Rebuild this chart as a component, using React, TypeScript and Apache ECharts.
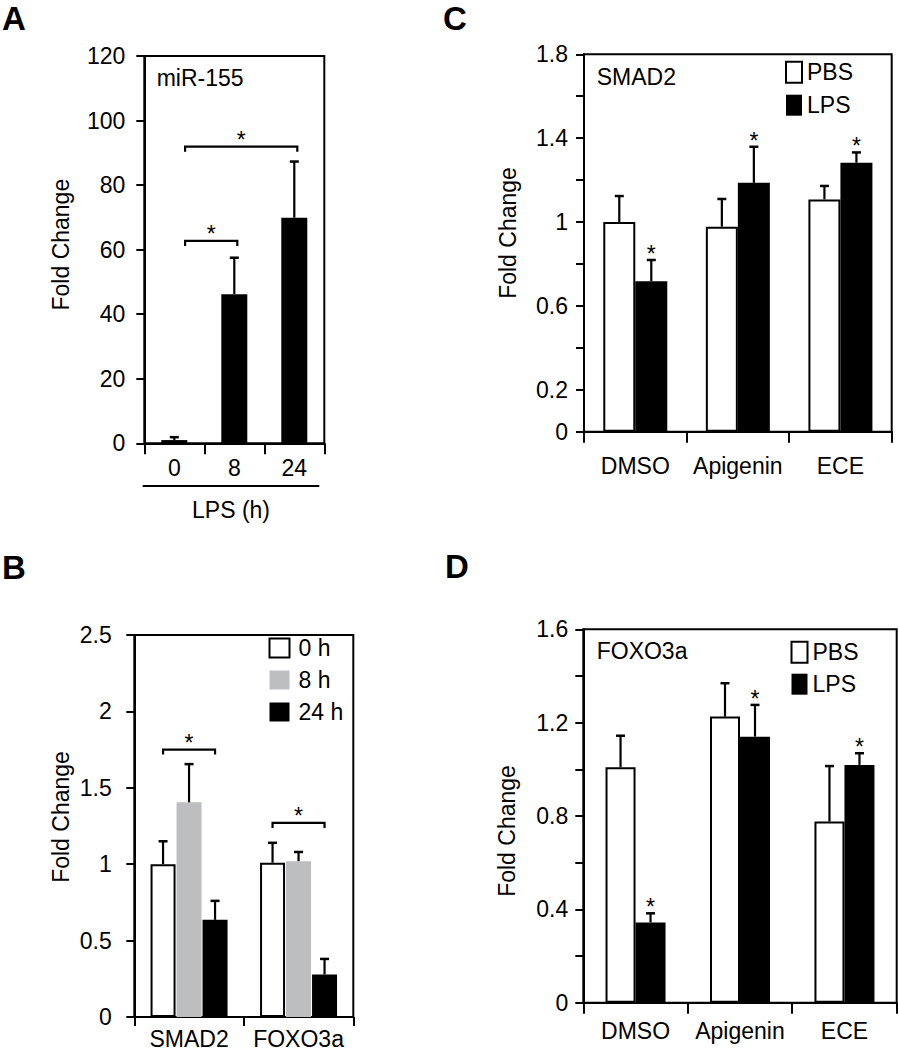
import React, { useEffect, useRef } from "react";
import * as echarts from "echarts";

const FONT = '"Liberation Sans", Arial, Helvetica, sans-serif';
const BLACK = "#000000";
const GRAY = "#bcbec0";

// Panel A: miR-155 vs LPS time
const catsA = ["0", "8", "24"];
const valsA = [1.0, 46.2, 69.9];
const errA = [1.9, 57.5, 87.3];
const bracketsA: [number, number, number][] = [
  [0, 1, 62.7],
  [0, 2, 91.9],
];

// Panel B: SMAD2 / FOXO3a over time
const catsB = ["SMAD2", "FOXO3a"];
const namesB = ["0 h", "8 h", "24 h"];
const b0h = [1.0, 1.01];
const b0hErr = [1.15, 1.14];
const b8h = [1.405, 1.02];
const b8hErr = [1.655, 1.08];
const b24h = [0.636, 0.278];
const b24hErr = [0.76, 0.38];
const bracketsB: [number, number][] = [
  [0, 1.75],
  [1, 1.27],
];

// Panels C and D
const catsCD = ["DMSO", "Apigenin", "ECE"];
const namesCD = ["PBS", "LPS"];
const cPBS = [1.0, 0.978, 1.108];
const cPBSErr = [1.124, 1.11, 1.172];
const cLPS = [0.718, 1.187, 1.283];
const cLPSErr = [0.819, 1.359, 1.332];
const cLPSStar = [1, 1, 1];
const dPBS = [1.009, 1.226, 0.776];
const dPBSErr = [1.144, 1.369, 1.014];
const dLPS = [0.344, 1.14, 1.019];
const dLPSErr = [0.383, 1.276, 1.069];
const dLPSStar = [1, 1, 1];

const yLabelsC = [0, 2, 6, 10, 14, 18];
const yLabelsD = [0, 4, 8, 12, 16];

const line2 = { color: BLACK, width: 2 };
const STAR_FONT = `23px ${FONT}`;

function xAxis(gridIndex: number, data: string[], tickLen: number, margin: number) {
  return {
    type: "category",
    gridIndex,
    data,
    axisLine: { show: true, lineStyle: line2 },
    axisTick: { show: true, length: tickLen, lineStyle: line2 },
    axisLabel: { color: BLACK, fontSize: 23, fontFamily: FONT, margin, interval: 0 },
    splitLine: { show: false },
  };
}

function yAxis(
  gridIndex: number,
  max: number,
  interval: number,
  margin: number,
  nameGap: number,
  namePad: number[],
  formatter?: (v: number) => string
) {
  return {
    type: "value",
    gridIndex,
    min: 0,
    max,
    interval,
    name: "Fold Change",
    nameLocation: "middle",
    nameGap,
    nameMoveOverlap: false,
    nameTextStyle: { color: BLACK, fontSize: 23, fontFamily: FONT, padding: namePad },
    axisLine: { show: true, lineStyle: line2 },
    axisTick: { show: true, length: 8, lineStyle: line2 },
    axisLabel: { color: BLACK, fontSize: 23, fontFamily: FONT, margin, formatter },
    splitLine: { show: false },
  };
}

function starText(x: number, y: number) {
  return {
    type: "text",
    x,
    y,
    style: { text: "*", fill: BLACK, font: STAR_FONT, align: "center", verticalAlign: "middle" },
  };
}

function errSeries(axis: number, vals: number[], errs: number[], stars: number[] | null, offset: number) {
  return {
    type: "custom",
    xAxisIndex: axis,
    yAxisIndex: axis,
    silent: true,
    z: 5,
    data: vals.map((v, i) => [i, v, errs[i], stars ? stars[i] : 0]),
    renderItem: (_p: any, api: any) => {
      const i = api.value(0);
      const top = api.coord([i, api.value(1)]);
      const e = api.coord([i, api.value(2)]);
      const x = top[0] + offset;
      const children: any[] = [
        { type: "line", shape: { x1: x, y1: top[1], x2: x, y2: e[1] }, style: { stroke: BLACK, lineWidth: 2.2 } },
        { type: "line", shape: { x1: x - 4.5, y1: e[1], x2: x + 4.5, y2: e[1] }, style: { stroke: BLACK, lineWidth: 2.5 } },
      ];
      if (api.value(3)) children.push(starText(x, e[1] - 6));
      return { type: "group", children };
    },
  };
}

function bracketPath(xL: number, xR: number, y: number) {
  return [
    { type: "polyline", shape: { points: [[xL, y + 5], [xL, y], [xR, y], [xR, y + 5]] }, style: { stroke: BLACK, lineWidth: 2.2, fill: "none" } },
    starText((xL + xR) / 2, y - 7),
  ];
}

const whiteBar = { color: "#ffffff", borderColor: BLACK, borderWidth: 2 };
const blackBar = { color: BLACK };
const grayBar = { color: GRAY };

export default function App() {
  const ref = useRef<HTMLDivElement>(null);
  useEffect(() => {
    if (!ref.current) return;
    const chart = echarts.init(ref.current, undefined, { renderer: "svg" });

    const wB = 25;
    const gB = 1;
    const wC = 32;
    const wD = 30;

    const option: any = {
      animation: false,
      backgroundColor: "#ffffff",
      textStyle: { fontFamily: FONT },
      grid: [
        { left: 144.3, top: 56, width: 180, height: 387.3 },
        { left: 134.3, top: 635, width: 219, height: 384.3 },
        { left: 584, top: 54.3, width: 307.7, height: 377.4 },
        { left: 583.3, top: 629.3, width: 313.4, height: 373.4 },
      ].map((g) => ({ ...g, show: true, borderColor: BLACK, borderWidth: 2, backgroundColor: "transparent", containLabel: false })),
      xAxis: [
        xAxis(0, catsA, 11, 13.5),
        xAxis(1, catsB, 9, 10),
        xAxis(2, catsCD, 11, 22.5),
        xAxis(3, catsCD, 11, 16.5),
      ],
      yAxis: [
        yAxis(0, 120, 20, 19, 72, [0, 0, 0, 10]),
        yAxis(1, 2.5, 0.5, 22.5, 62, [0, 0, 0, 18]),
        yAxis(2, 1.8, 0.2, 16, 65, [0, 0, 0, 20], (v: number) =>
          yLabelsC.includes(Math.round(v * 10)) ? String(Math.round(v * 10) / 10) : ""
        ),
        yAxis(3, 1.6, 0.2, 15, 65, [0, 30, 0, 0], (v: number) =>
          yLabelsD.includes(Math.round(v * 10)) ? String(Math.round(v * 10) / 10) : ""
        ),
      ],
      legend: [
        {
          data: [
            { name: namesB[0], itemStyle: whiteBar },
            { name: namesB[1], itemStyle: grayBar },
            { name: namesB[2], itemStyle: blackBar },
          ],
          orient: "vertical",
          left: 268.5,
          top: 636.5,
          itemWidth: 20,
          itemHeight: 19,
          itemGap: 9,
          padding: 0,
          icon: "rect",
          selectedMode: false,
          textStyle: { color: BLACK, fontSize: 23, fontFamily: FONT, padding: [0, 0, 0, 4] },
        },
        {
          data: [
            { name: namesCD[0], itemStyle: whiteBar },
            { name: namesCD[1], itemStyle: blackBar },
          ],
          orient: "vertical",
          left: 785,
          top: 60.7,
          itemWidth: 16,
          itemHeight: 21,
          itemGap: 10,
          padding: 0,
          icon: "rect",
          selectedMode: false,
          textStyle: { color: BLACK, fontSize: 23, fontFamily: FONT },
        },
        {
          data: [
            { name: namesCD[0], itemStyle: whiteBar },
            { name: namesCD[1], itemStyle: blackBar },
          ],
          orient: "vertical",
          left: 790.5,
          top: 640.7,
          itemWidth: 16,
          itemHeight: 21,
          itemGap: 9,
          padding: 0,
          icon: "rect",
          selectedMode: false,
          textStyle: { color: BLACK, fontSize: 23, fontFamily: FONT },
        },
      ],
      series: [
        // Panel A
        { type: "bar", name: "miR-155", xAxisIndex: 0, yAxisIndex: 0, data: valsA, barWidth: 26, itemStyle: blackBar, silent: true },
        errSeries(0, valsA, errA, null, 0),
        {
          type: "custom",
          xAxisIndex: 0,
          yAxisIndex: 0,
          silent: true,
          z: 5,
          data: bracketsA,
          encode: { x: 0, y: 2 },
          renderItem: (_p: any, api: any) => {
            const band = api.size([1, 0])[0];
            const y = api.coord([0, api.value(2)])[1];
            const xL = api.coord([api.value(0), 0])[0] + 0.18 * band;
            const xR = api.coord([api.value(1), 0])[0] + 0.05 * band;
            return { type: "group", children: bracketPath(xL, xR, y) };
          },
        },
        // Panel B
        { type: "bar", name: namesB[0], xAxisIndex: 1, yAxisIndex: 1, data: b0h, barWidth: wB, barGap: "4%", itemStyle: whiteBar, silent: true },
        { type: "bar", name: namesB[1], xAxisIndex: 1, yAxisIndex: 1, data: b8h, barWidth: wB, barGap: "4%", itemStyle: grayBar, silent: true },
        { type: "bar", name: namesB[2], xAxisIndex: 1, yAxisIndex: 1, data: b24h, barWidth: wB, barGap: "4%", itemStyle: blackBar, silent: true },
        errSeries(1, b0h, b0hErr, null, -(wB + gB)),
        errSeries(1, b8h, b8hErr, null, 0),
        errSeries(1, b24h, b24hErr, null, wB + gB),
        {
          type: "custom",
          xAxisIndex: 1,
          yAxisIndex: 1,
          silent: true,
          z: 5,
          data: bracketsB,
          renderItem: (_p: any, api: any) => {
            const c = api.coord([api.value(0), api.value(1)]);
            const xL = c[0] - (wB + gB);
            const xR = c[0] + (wB + gB);
            return { type: "group", children: bracketPath(xL, xR, c[1]) };
          },
        },
        // Panel C
        { type: "bar", name: namesCD[0], xAxisIndex: 2, yAxisIndex: 2, data: cPBS, barWidth: wC, barGap: "0%", itemStyle: whiteBar, silent: true },
        { type: "bar", name: namesCD[1], xAxisIndex: 2, yAxisIndex: 2, data: cLPS, barWidth: wC, barGap: "0%", itemStyle: blackBar, silent: true },
        errSeries(2, cPBS, cPBSErr, null, -wC / 2),
        errSeries(2, cLPS, cLPSErr, cLPSStar, wC / 2),
        // Panel D
        { type: "bar", name: namesCD[0], xAxisIndex: 3, yAxisIndex: 3, data: dPBS, barWidth: wD, barGap: "0%", itemStyle: whiteBar, silent: true },
        { type: "bar", name: namesCD[1], xAxisIndex: 3, yAxisIndex: 3, data: dLPS, barWidth: wD, barGap: "0%", itemStyle: blackBar, silent: true },
        errSeries(3, dPBS, dPBSErr, null, -wD / 2),
        errSeries(3, dLPS, dLPSErr, dLPSStar, wD / 2),
      ],
      graphic: [
        { type: "text", x: 2, y: 18, style: { text: "A", fill: BLACK, font: `bold 33px ${FONT}`, align: "left", verticalAlign: "middle" } },
        { type: "text", x: 2, y: 567, style: { text: "B", fill: BLACK, font: `bold 33px ${FONT}`, align: "left", verticalAlign: "middle" } },
        { type: "text", x: 443, y: 18, style: { text: "C", fill: BLACK, font: `bold 33px ${FONT}`, align: "left", verticalAlign: "middle" } },
        { type: "text", x: 445, y: 566, style: { text: "D", fill: BLACK, font: `bold 33px ${FONT}`, align: "left", verticalAlign: "middle" } },
        { type: "text", x: 156.7, y: 78, style: { text: "miR-155", fill: BLACK, font: `23px ${FONT}`, align: "left", verticalAlign: "middle" } },
        { type: "text", x: 596.7, y: 76.7, style: { text: "SMAD2", fill: BLACK, font: `23px ${FONT}`, align: "left", verticalAlign: "middle" } },
        { type: "text", x: 596.7, y: 650.8, style: { text: "FOXO3a", fill: BLACK, font: `23px ${FONT}`, align: "left", verticalAlign: "middle" } },
        { type: "line", shape: { x1: 142.7, y1: 486, x2: 319.3, y2: 486 }, style: { stroke: BLACK, lineWidth: 2 } },
        { type: "text", x: 231, y: 510, style: { text: "LPS (h)", fill: BLACK, font: `23px ${FONT}`, align: "center", verticalAlign: "middle" } },
      ],
    };

    chart.setOption(option);
    return () => chart.dispose();
  }, []);

  return <div ref={ref} style={{ position: "absolute", left: 0, top: 0, width: 899, height: 1050 }} />;
}
